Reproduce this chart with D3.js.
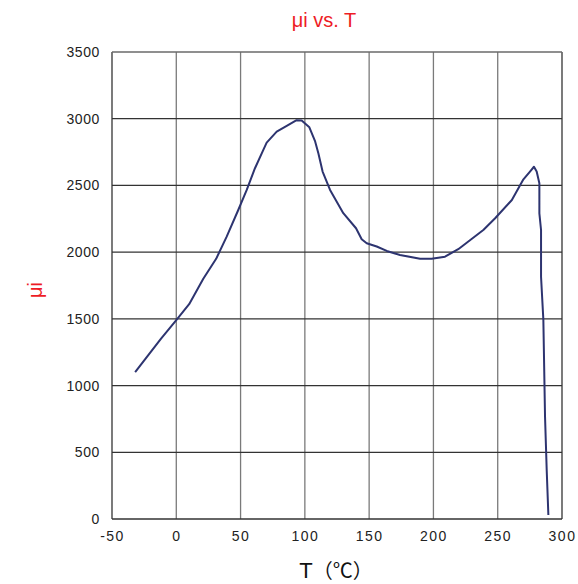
<!DOCTYPE html>
<html>
<head>
<meta charset="utf-8">
<script src="https://cdn.jsdelivr.net/npm/d3@7"></script>
<style>
html,body{margin:0;padding:0;background:#fff;}
svg{display:block;font-family:"Liberation Sans",Arial,sans-serif;}
</style>
</head>
<body>
<svg id="chart" width="578" height="584"></svg>
<script>
const temps = [-32,-12,0,10,21,31,39.2,48.2,54.8,61.2,67.7,70.3,78.1,85.9,93.6,97.5,103.5,108,110.5,113.8,119.6,129.9,139.8,144.2,148.1,155.9,163.7,174,189.6,198.6,209,219.3,238.8,248,261,270,275.1,278.2,280.3,282.4,282.4,283.7,283.7,285.5,286.8,288.1,289.4];
const mu =    [1100,1350,1490,1610,1800,1950,2116,2316,2466,2629,2766,2821,2903,2946,2989,2986,2936,2830,2741,2604,2466,2292,2179,2097,2067,2042,2009,1979,1950,1950,1966,2022,2166,2254,2391,2546,2604,2640,2604,2516,2291,2166,1816,1492,767,367,30];
const xTicks = [-50,0,50,100,150,200,250,300];
const yTicks = [0,500,1000,1500,2000,2500,3000,3500];

const svg = d3.select("#chart");
const L=112, R=562, T=52, B=519;
const x = d3.scaleLinear().domain([-50,300]).range([L,R]);
const y = d3.scaleLinear().domain([0,3500]).range([B,T]);

// vertical grid
svg.append("g").selectAll("line").data(xTicks).join("line")
  .attr("x1",d=>x(d)).attr("x2",d=>x(d)).attr("y1",T).attr("y2",B)
  .attr("stroke",d=>(d===-50||d===300)?"#333":"#7a7a7a").attr("stroke-width",1.3);
// horizontal grid
svg.append("g").selectAll("line").data(yTicks).join("line")
  .attr("x1",L).attr("x2",R).attr("y1",d=>y(d)).attr("y2",d=>y(d))
  .attr("stroke",d=>d===3500?"#6a6a6a":"#333").attr("stroke-width",1.3);

// axes labels
const xAxis = d3.axisBottom(x).tickValues(xTicks).tickSize(0).tickPadding(12).tickFormat(d=>String(d));
const gx = svg.append("g").attr("transform",`translate(0,${B})`).call(xAxis);
gx.select(".domain").remove();
gx.selectAll("text").attr("font-size",14).attr("fill","#222").attr("font-family","Liberation Sans, Arial, sans-serif").style("letter-spacing","1.5px");

const yAxis = d3.axisLeft(y).tickValues(yTicks).tickSize(0).tickPadding(12).tickFormat(d=>String(d));
const gy = svg.append("g").attr("transform",`translate(${L},0)`).call(yAxis);
gy.select(".domain").remove();
gy.selectAll("text").attr("font-size",14).attr("fill","#222").attr("font-family","Liberation Sans, Arial, sans-serif").style("letter-spacing","0.6px");

// curve
const line = d3.line().x((d,i)=>x(temps[i])).y((d,i)=>y(mu[i])).curve(d3.curveLinear);
svg.append("path").datum(mu).attr("d",line)
  .attr("fill","none").attr("stroke","#2d3470").attr("stroke-width",2).attr("stroke-linejoin","round");

// title
svg.append("text").attr("x",324).attr("y",27).attr("text-anchor","middle")
  .attr("font-size",20).attr("fill","#ee1c25").text("μi vs. T");
// y label
svg.append("text").attr("transform","translate(42,290) rotate(-90)").attr("text-anchor","middle")
  .attr("font-size",20).attr("fill","#ee1c25").text("μi");
// x label
const xl = svg.append("text").attr("x",336).attr("y",578).attr("text-anchor","middle")
  .attr("font-size",20).attr("fill","#111");
xl.append("tspan").attr("font-family","Liberation Sans, Arial, sans-serif").attr("font-size",22).text("T");
xl.append("tspan").attr("font-family","Noto Sans CJK SC").text("（℃）");
</script>
</body>
</html>
